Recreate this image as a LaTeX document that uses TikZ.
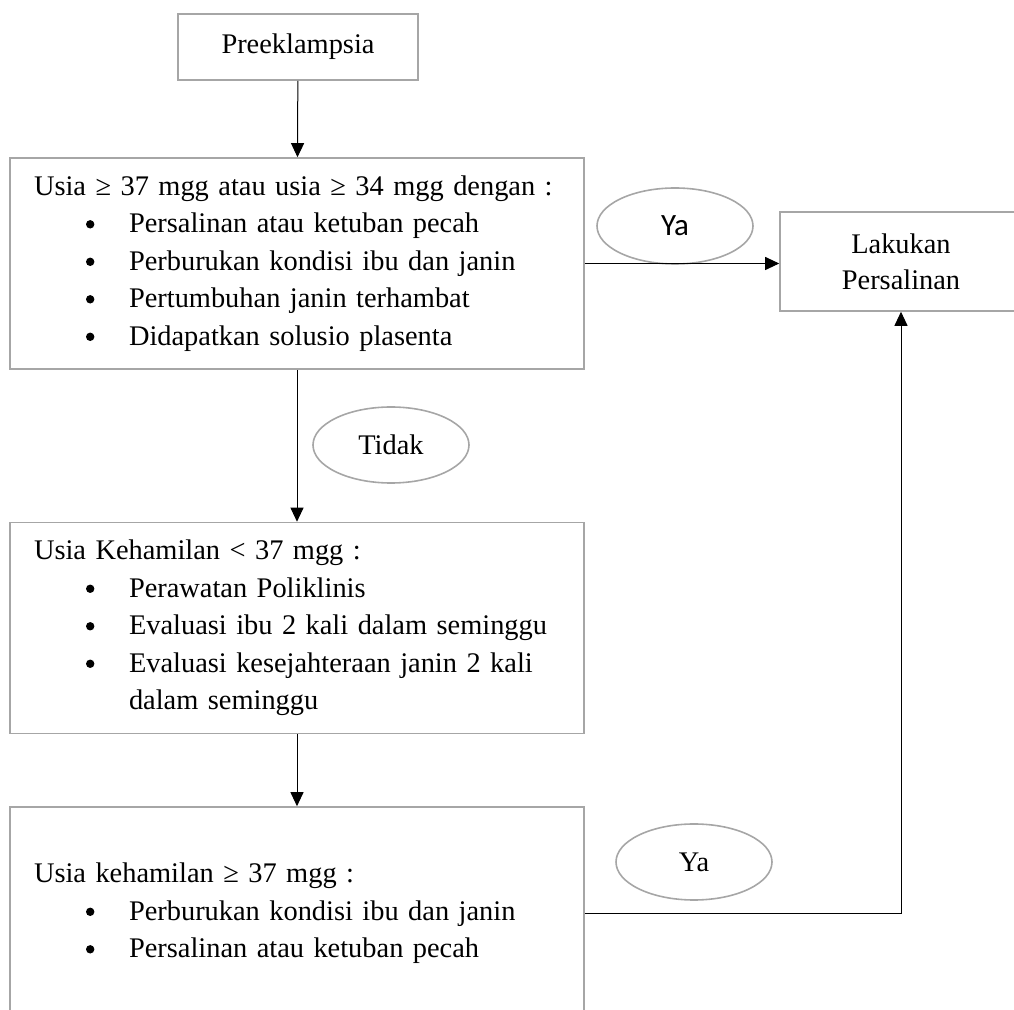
\documentclass[tikz,border=0pt]{standalone}
\usepackage{fontspec}
\setmainfont{Liberation Serif}
\newfontfamily\labelsans{Carlito}
\usetikzlibrary{arrows.meta,shapes.geometric}

\definecolor{boxgray}{HTML}{A6A6A6}
\newcommand{\titik}{\tikz[baseline]\fill (0,0.3em) circle (2.1pt);}
\newcommand{\butir}[1]{\\\hspace*{26pt}\makebox[21.5pt][l]{\titik}#1}
\newcommand{\lanjut}[1]{\\\hspace*{47.5pt}#1}

\tikzset{
	kotak/.style={draw=boxgray, line width=0.8pt, inner xsep=12pt, inner ysep=0pt, font=\fontsize{14.2}{18.75}\selectfont},
	daftar/.style={kotak, text width=263pt, minimum width=287pt, minimum height=105.5pt, align=left},
	pilihan/.style={ellipse, draw=boxgray, line width=0.8pt, minimum width=78pt, minimum height=38pt, inner sep=0pt, font=\fontsize{14.2}{18.75}\selectfont},
	panah/.style={-{Triangle[length=7pt,width=6.5pt]}, line width=0.5pt},
}

\begin{document}
\begin{tikzpicture}[x=0.5pt, y=-0.5pt]
			%%%%% START %%%%%
			\useasboundingbox (0, 0) rectangle (1014, 1010);
			
			\node[kotak, minimum width=120pt, minimum height=33pt] (pre) at (298, 47) {Preeklampsia};
			
			\node[daftar] (crit) at (297, 263.5) {\mbox{Usia ≥ 37 mgg atau usia ≥ 34 mgg dengan :}
				\butir{Persalinan atau ketuban pecah}
				\butir{Perburukan kondisi ibu dan janin}
				\butir{Pertumbuhan janin terhambat}
				\butir{Didapatkan solusio plasenta}};
			
			\node[kotak, minimum width=121pt, minimum height=49.5pt, align=center, font=\fontsize{14.2}{18}\selectfont] (lakukan) at (901, 261.5) {Lakukan\\Persalinan};
			
			\node[daftar] (rawat) at (297, 628) {Usia Kehamilan < 37 mgg :
				\butir{Perawatan Poliklinis}
				\butir{Evaluasi ibu 2 kali dalam seminggu}
				\butir{Evaluasi kesejahteraan janin 2 kali}
				\lanjut{dalam seminggu}};
			
			\node[daftar, minimum height=106.5pt] (aterm) at (297, 913.5) {Usia kehamilan ≥ 37 mgg :
				\butir{Perburukan kondisi ibu dan janin}
				\butir{Persalinan atau ketuban pecah}};
			
			\node[pilihan, font=\fontsize{15.5}{18}\labelsans] (yaA) at (675, 226) {Ya};
			\node[pilihan] (tidak) at (391, 445) {Tidak};
			\node[pilihan] (yaB) at (694, 862) {Ya};
			
			\draw[panah] (pre) -- (crit);
			\draw[panah] (crit) -- (rawat);
			\draw[panah] (rawat) -- (aterm);
			\draw[panah] (crit.east) -- (crit.east -| lakukan.west);
			\draw[panah] (aterm.east) -| (lakukan.south);
			
			%%%%% END %%%%%
\end{tikzpicture}
\end{document}
